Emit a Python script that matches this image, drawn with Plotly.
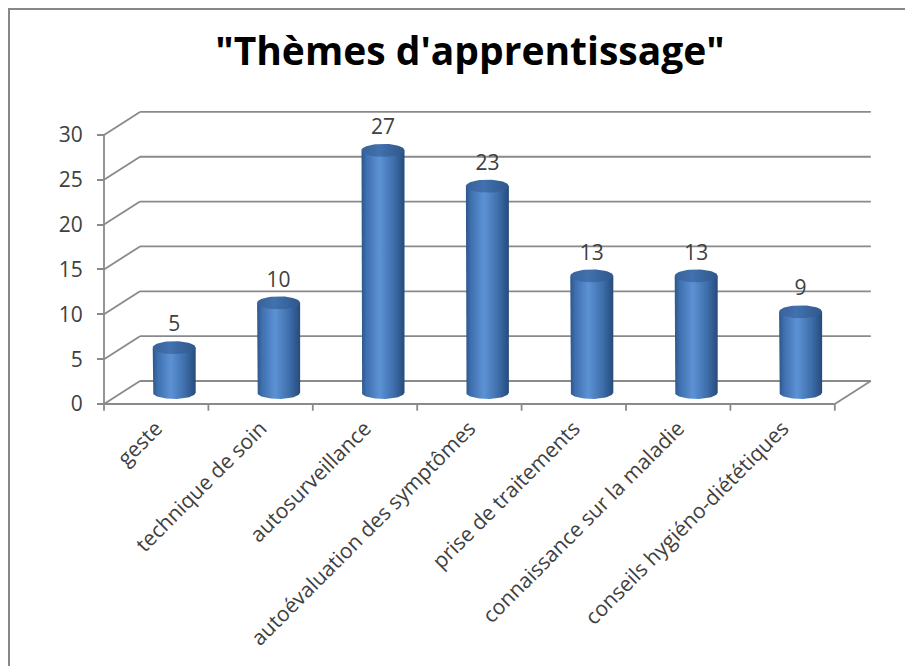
import numpy as np
import plotly.graph_objects as go

# ---------------- data ----------------
categories = [
    "geste",
    "technique de soin",
    "autosurveillance",
    "autoévaluation des symptômes",
    "prise de traitements",
    "connaissance sur la maladie",
    "conseils hygiéno-diététiques",
]
values = [5, 10, 27, 23, 13, 13, 9]
y_tick_values = [0, 5, 10, 15, 20, 25, 30]
title_text = '"Thèmes d\'apprentissage"'

# ---------------- layout constants (pixels) ----------------
W, H = 913, 666
OFF = 8                 # page body margin
CAT_PX = 104.4          # width of one category on the front edge
UNIT_PX = 8.97          # pixels per value unit
FRONT_LEFT_PX = 104 - OFF
FRONT_ZERO_PX = 404 - OFF
PLOT_L, PLOT_R, PLOT_T, PLOT_B = 94 - OFF, 882 - OFF, 105 - OFF, 420 - OFF

x_min = -0.5 - (FRONT_LEFT_PX - PLOT_L) / CAT_PX
x_max = -0.5 + (PLOT_R - FRONT_LEFT_PX) / CAT_PX
y_min = -(PLOT_B - FRONT_ZERO_PX) / UNIT_PX
y_max = (FRONT_ZERO_PX - PLOT_T) / UNIT_PX

DX = 36 / CAT_PX        # depth offset (x) of the 3D box
DY = 23 / UNIT_PX       # depth offset (y) of the 3D box
RX = 21.5 / CAT_PX      # cylinder radius
RY = 6.5 / UNIT_PX      # ellipse half height
LABEL_GAP = 2.4         # data label offset above top

GRID = "#8a8a8a"
TEXT = "#404040"
FONT = "Open Sans"

n = len(categories)
x_front_left = -0.5
x_front_right = n - 0.5
vmax = y_tick_values[-1]

shapes = []


def seg(x0, y0, x1, y1, width=1.8, color=GRID, layer="below"):
    shapes.append(dict(type="line", xref="x", yref="y", x0=x0, y0=y0, x1=x1, y1=y1,
                       line=dict(color=color, width=width), layer=layer))


# back wall gridlines + diagonals on the side wall
for v in y_tick_values:
    seg(x_front_left, v, x_front_left + DX, v + DY)
    seg(x_front_left + DX, v + DY, x_front_right + DX, v + DY)
# floor front edge and right edge
seg(x_front_left, 0, x_front_right, 0)
seg(x_front_right, 0, x_front_right + DX, DY)
# front vertical axis line
seg(x_front_left, 0, x_front_left, vmax)
# category boundary tick marks
for b in range(n + 1):
    xb = b - 0.5
    seg(xb, 0, xb, -0.75)

# outer border of the chart
pw = PLOT_R - PLOT_L
ph = PLOT_B - PLOT_T
shapes.append(dict(type="rect", xref="paper", yref="paper",
                   x0=(1 - PLOT_L) / pw, x1=(W + 30 - PLOT_L) / pw,
                   y0=(PLOT_B - (H + 30)) / ph, y1=(PLOT_B - 1) / ph,
                   line=dict(color="#878787", width=2), layer="below"))

fig = go.Figure()

body_scale = [[0.0, "#2d568a"], [0.12, "#3f70b0"], [0.42, "#5c92d4"],
              [0.75, "#3e6eab"], [1.0, "#264b7c"]]
top_scale = [[0.0, "#38629b"], [0.4, "#4271ad"], [1.0, "#2f578b"]]

base = DY / 2
for i, (cat, v) in enumerate(zip(categories, values)):
    xc = i + DX / 2
    top = base + v
    th = np.linspace(np.pi, 2 * np.pi, 40)
    bx = list(xc + RX * np.cos(th))
    by = list(base + RY * np.sin(th))
    xs = [xc - RX] + bx + [xc + RX, xc - RX]
    ys = [top] + by + [top, top]
    fig.add_trace(go.Scatter(
        x=xs, y=ys, mode="lines", fill="toself",
        line=dict(width=0, color="#2d568a"),
        fillgradient=dict(type="horizontal", colorscale=body_scale),
        hoverinfo="skip", showlegend=False))
    t2 = np.linspace(0, 2 * np.pi, 60)
    fig.add_trace(go.Scatter(
        x=list(xc + RX * np.cos(t2)), y=list(top + RY * np.sin(t2)),
        mode="lines", fill="toself",
        line=dict(width=0, color="#31598e"),
        fillgradient=dict(type="horizontal", colorscale=top_scale),
        hoverinfo="skip", showlegend=False))

# data labels
fig.add_trace(go.Scatter(
    x=[i + DX / 2 for i in range(n)],
    y=[base + v + LABEL_GAP for v in values],
    text=[str(v) for v in values], mode="text",
    textfont=dict(family=FONT, size=21, color=TEXT),
    hoverinfo="skip", showlegend=False))

fig.update_layout(
    width=W, height=H,
    margin=dict(l=PLOT_L, r=W - PLOT_R, t=PLOT_T, b=H - PLOT_B, autoexpand=False),
    paper_bgcolor="white", plot_bgcolor="white",
    title=dict(text=title_text, x=(470 - OFF) / W, xref="container", xanchor="center",
               y=1 - (51 - OFF) / H, yref="container", yanchor="middle",
               font=dict(family=FONT, size=39, color="black", weight="bold")),
    shapes=shapes,
    xaxis=dict(range=[x_min, x_max], showgrid=False, zeroline=False, showline=False,
               tickmode="array", tickvals=list(range(n)), ticktext=categories,
               tickangle=-45, ticks="", ticklabelstandoff=-9,
               tickfont=dict(family=FONT, size=21, color=TEXT),
               fixedrange=True),
    yaxis=dict(range=[y_min, y_max], showgrid=False, zeroline=False, showline=False,
               anchor="free", position=(FRONT_LEFT_PX - PLOT_L) / pw,
               tickmode="array", tickvals=y_tick_values, ticks="outside", ticklen=7,
               tickwidth=1.8, tickcolor=GRID, ticklabelstandoff=10,
               tickfont=dict(family=FONT, size=21, color=TEXT), fixedrange=True),
    showlegend=False,
)

fig.write_html("out.html")
